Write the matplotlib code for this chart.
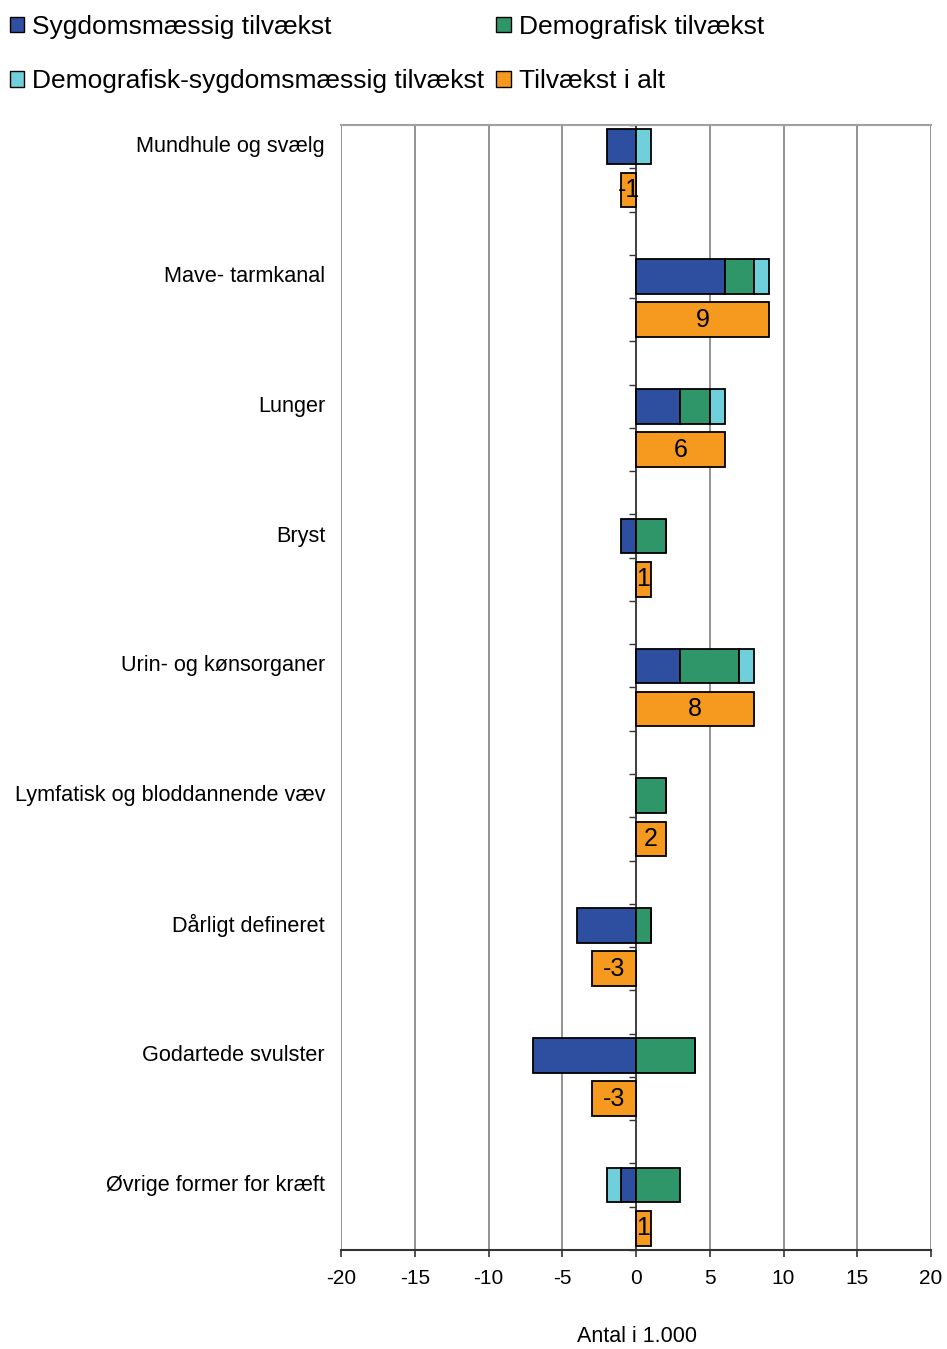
import matplotlib.pyplot as plt
import numpy as np
from matplotlib.patches import Patch

plt.rcParams["font.family"] = ["Liberation Sans", "DejaVu Sans"]
plt.rcParams["axes.unicode_minus"] = False

categories = [
    "Mundhule og svælg",
    "Mave- tarmkanal",
    "Lunger",
    "Bryst",
    "Urin- og kønsorganer",
    "Lymfatisk og bloddannende væv",
    "Dårligt defineret",
    "Godartede svulster",
    "Øvrige former for kræft",
]
sygdom = [-2, 6, 3, -1, 3, 0, -4, -7, -1]
demografisk = [0, 2, 2, 2, 4, 2, 1, 4, 3]
demo_sygdom = [1, 1, 1, 0, 1, 0, 0, 0, -1]
total = [-1, 9, 6, 1, 8, 2, -3, -3, 1]

series_names = ["Sygdomsmæssig tilvækst", "Demografisk tilvækst",
                "Demografisk-sygdomsmæssig tilvækst", "Tilvækst i alt"]
c_syg = "#2e4fa0"
c_dem = "#2e9668"
c_ds = "#6fcfda"
c_tot = "#f5991f"

n = len(categories)
y_stack = np.arange(n) * 3
y_total = y_stack + 1
bw = 0.8

fig = plt.figure(figsize=(9.47, 13.49), dpi=100)
ax = fig.add_axes([341 / 947, 1 - 1250 / 1349, 590 / 947, 1125 / 1349])

# positive and negative parts stack separately, like Excel
pos = np.zeros(n)
neg = np.zeros(n)
for vals, col in [(sygdom, c_syg), (demografisk, c_dem), (demo_sygdom, c_ds)]:
    v = np.array(vals, dtype=float)
    left = np.where(v >= 0, pos, neg)
    ax.barh(y_stack, v, left=left, height=bw, color=col,
            edgecolor="black", linewidth=1.3, zorder=3)
    pos = pos + np.where(v > 0, v, 0)
    neg = neg + np.where(v < 0, v, 0)

ax.barh(y_total, total, height=bw, color=c_tot, edgecolor="black",
        linewidth=1.3, zorder=3)
for yi, t in zip(y_total, total):
    ax.text(t / 2, yi, f"{t}", ha="center", va="center", fontsize=18, zorder=4)

ax.set_xlim(-20, 20)
ax.set_ylim(25.5, -0.5)
ax.set_xticks(np.arange(-20, 21, 5))
ax.tick_params(axis="x", labelsize=15, length=5, width=1.2, pad=9, color="#333333")
ax.grid(axis="x", color="#808080", linewidth=1.2, zorder=1)
ax.set_axisbelow(True)

# y axis crosses at zero
ax.spines["left"].set_position(("data", 0))
ax.spines["left"].set_color("#333333")
ax.spines["left"].set_linewidth(1.2)
ax.spines["left"].set_zorder(2)
ax.set_yticks(np.arange(-0.5, 26, 1))
ax.set_yticklabels([])
ax.tick_params(axis="y", length=5, width=1.0, color="#333333", direction="out")
ax.spines["bottom"].set_color("#333333")
ax.spines["bottom"].set_linewidth(1.5)
ax.spines["top"].set_color("#a0a0a0")
ax.spines["top"].set_linewidth(1.5)
ax.spines["right"].set_visible(False)

tr = ax.get_yaxis_transform()
for yi, lab in zip(y_stack, categories):
    ax.text(-0.027, yi, lab, transform=tr, ha="right", va="center", fontsize=15.6)

fig.text(637 / 947, 1 - 1336 / 1349, "Antal i 1.000", ha="center", va="center",
         fontsize=15.5)

handles = [
    Patch(facecolor=c_syg, edgecolor="black", label=series_names[0]),
    Patch(facecolor=c_ds, edgecolor="black", label=series_names[2]),
    Patch(facecolor=c_dem, edgecolor="black", label=series_names[1]),
    Patch(facecolor=c_tot, edgecolor="black", label=series_names[3]),
]
fig.legend(handles=handles, ncol=2, loc="upper left", bbox_to_anchor=(0.0105, 0.989),
           frameon=False, fontsize=19, handlelength=0.55, handleheight=0.55,
           handletextpad=0.3, columnspacing=0.45, labelspacing=1.15, borderpad=0,
           borderaxespad=0)

fig.savefig("out.png", dpi=100)
